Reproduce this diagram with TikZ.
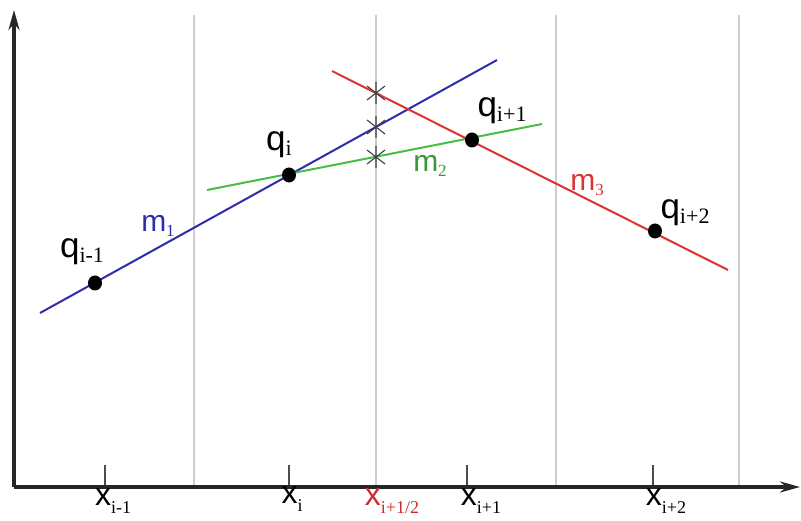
\documentclass[tikz,border=0pt]{standalone}
\usepackage{fontspec}
\setmainfont{Liberation Sans}
\newfontfamily\subf{Liberation Serif}
\usetikzlibrary{arrows.meta,shapes.geometric}
\definecolor{lblue}{RGB}{45,45,170}
\definecolor{lgreen}{RGB}{70,190,70}
\definecolor{lred}{RGB}{222,50,50}
\definecolor{gridgray}{RGB}{205,205,205}
\newcommand{\qlab}[2]{#1\raisebox{-0.25ex}{\subf\fontsize{22}{22}\selectfont #2}}
\newcommand{\xlab}[2]{#1\raisebox{-0.5ex}{\subf\fontsize{18}{18}\selectfont #2}}
\newcommand{\mlab}[2]{#1\raisebox{-0.28ex}{\subf\fontsize{17}{17}\selectfont #2}}

\begin{document}
\begin{tikzpicture}[x=1pt,y=-1pt,>={Stealth[length=20pt,width=11pt]},
  axis/.style={line width=3.2pt,black!85},
  gridline/.style={line width=1.1pt,gridgray},
  tickmark/.style={line width=1.5pt,black!70},
  mline/.style={line width=2pt},
  dot/.style={ellipse,fill=black,inner sep=0pt,minimum width=14pt,minimum height=15pt},
  qtext/.style={font=\fontsize{35}{35}\selectfont,inner sep=0pt},
  xtext/.style={font=\fontsize{32}{32}\selectfont,inner sep=0pt},
  mtext/.style={font=\fontsize{30}{30}\selectfont,inner sep=0pt},
  starmark/.pic={\draw[line width=1.1pt,black!75] (-9,-7) -- (9,7) (-9,7) -- (9,-7) (0,-11) -- (0,11);}]

  \useasboundingbox (0,0) rectangle (801,521);

  % cell boundaries and nodes on the axis
  \foreach \gx in {194,376,556,739}
    \draw[gridline] (\gx,15) -- (\gx,487);
  \foreach \tx in {105,289,467,653}
    \draw[tickmark] (\tx,465) -- (\tx,487);

  \coordinate (O) at (14,487);
  \coordinate (ytop) at (14,10);
  \coordinate (xend) at (800,487);
  \draw[axis,->] (O) -- (ytop);
  \draw[axis,->] (O) -- (xend);

  % slopes
  \coordinate (m1a) at (40,313);
  \coordinate (m1b) at (497,60);
  \coordinate (m2a) at (207,190);
  \coordinate (m2b) at (542,124);
  \coordinate (m3a) at (332,71);
  \coordinate (m3b) at (728,270);
  \draw[mline,lblue] (m1a) -- (m1b);
  \draw[mline,lgreen] (m2a) -- (m2b);
  \draw[mline,lred] (m3a) -- (m3b);

  % values at the interface
  \pic at (376,93) {starmark};
  \pic at (376,127) {starmark};
  \pic at (376,157) {starmark};

  \node[dot] (qim1) at (95,283) {};
  \node[dot] (qi) at (289,175) {};
  \node[dot] (qip1) at (472,140) {};
  \node[dot] (qip2) at (655,231) {};

  \node[qtext] (lqim1) at (82,252) {\qlab{q}{i-1}};
  \node[qtext] (lqi) at (279,145) {\qlab{q}{i}};
  \node[qtext] (lqip1) at (502,111) {\qlab{q}{i+1}};
  \node[qtext] (lqip2) at (685,213) {\qlab{q}{i+2}};

  \node[mtext,text=lblue] (lm1) at (158,226) {\mlab{m}{1}};
  \node[mtext,text=lgreen!80!black] (lm2) at (430,166) {\mlab{m}{2}};
  \node[mtext,text=lred] (lm3) at (587,185) {\mlab{m}{3}};

  \node[xtext] (lxim1) at (113,501) {\xlab{x}{i-1}};
  \node[xtext] (lxi) at (292,499) {\xlab{x}{i}};
  \node[xtext,text=lred!90!black] (lxh) at (392,501) {\xlab{x}{i+1/2}};
  \node[xtext] (lxip1) at (481,501) {\xlab{x}{i+1}};
  \node[xtext] (lxip2) at (666,501) {\xlab{x}{i+2}};
\end{tikzpicture}
\end{document}
